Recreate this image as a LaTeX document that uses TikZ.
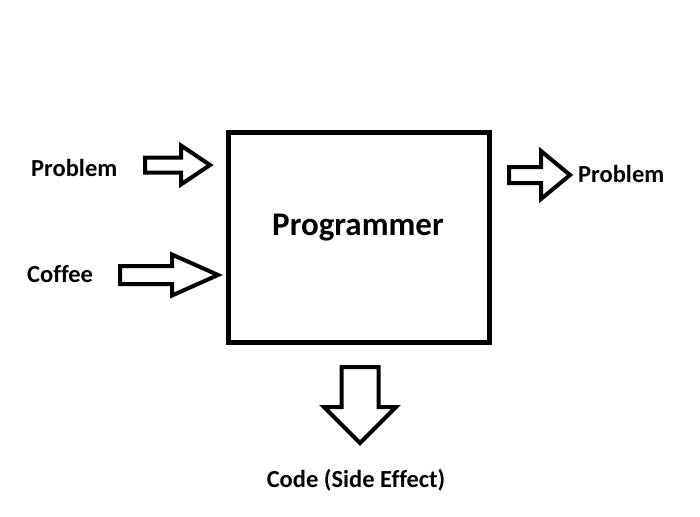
\documentclass[tikz,border=0pt]{standalone}
\usepackage{fontspec}
\setmainfont[Ligatures=NoCommon]{Carlito}
\usetikzlibrary{calc}

\begin{document}
\begin{tikzpicture}[x=1pt,y=-1pt,line join=miter,
  lbl/.style={font=\fontsize{24.5}{28}\selectfont\bfseries,inner sep=0pt},
  title/.style={font=\fontsize{33}{40}\selectfont\bfseries,inner sep=0pt},
  frame/.style={draw,line width=5pt,minimum width=261pt,minimum height=210pt,inner sep=0pt},
  fat/.style n args={3}{line width=4pt,to path={
    ($(\tikztostart)!#1!90:(\tikztotarget)$)
    -- ($($(\tikztotarget)!#3!(\tikztostart)$)!#1!-90:(\tikztostart)$)
    -- ($($(\tikztotarget)!#3!(\tikztostart)$)!#2!-90:(\tikztostart)$)
    -- (\tikztotarget)
    -- ($($(\tikztotarget)!#3!(\tikztostart)$)!#2!90:(\tikztostart)$)
    -- ($($(\tikztotarget)!#3!(\tikztostart)$)!#1!90:(\tikztostart)$)
    -- ($(\tikztostart)!#1!-90:(\tikztotarget)$) -- cycle}}]
\path[fill=white,use as bounding box] (0,0) rectangle (700,516);
\node[frame] (box) at (358.5,237) {};
\node[title,anchor=base] (prog) at (358,235) {Programmer};
\node[lbl,anchor=base west] (problemIn) at (31,176) {Problem};
\node[lbl,anchor=base west] (coffee) at (27,282) {Coffee};
\node[lbl,anchor=base west] (problemOut) at (578,182) {Problem};
\node[lbl,anchor=base] (code) at (356,487) {Code (Side Effect)};
% arrow ends
\coordinate (probInTail) at (145,165); \coordinate (probInTip) at (210,165);
\coordinate (coffeeTail) at (120,275); \coordinate (coffeeTip) at (218,275);
\coordinate (probOutTail) at (509,175); \coordinate (probOutTip) at (570,175);
\coordinate (codeTail) at (360,367); \coordinate (codeTip) at (360,443);
\draw[fat={7.5pt}{19.5pt}{29pt}] (probInTail) to (probInTip);
\draw[fat={9pt}{20.5pt}{46pt}] (coffeeTail) to (coffeeTip);
\draw[fat={8pt}{24pt}{29pt}] (probOutTail) to (probOutTip);
\draw[fat={18.5pt}{36pt}{36pt}] (codeTail) to (codeTip);
\end{tikzpicture}
\end{document}
